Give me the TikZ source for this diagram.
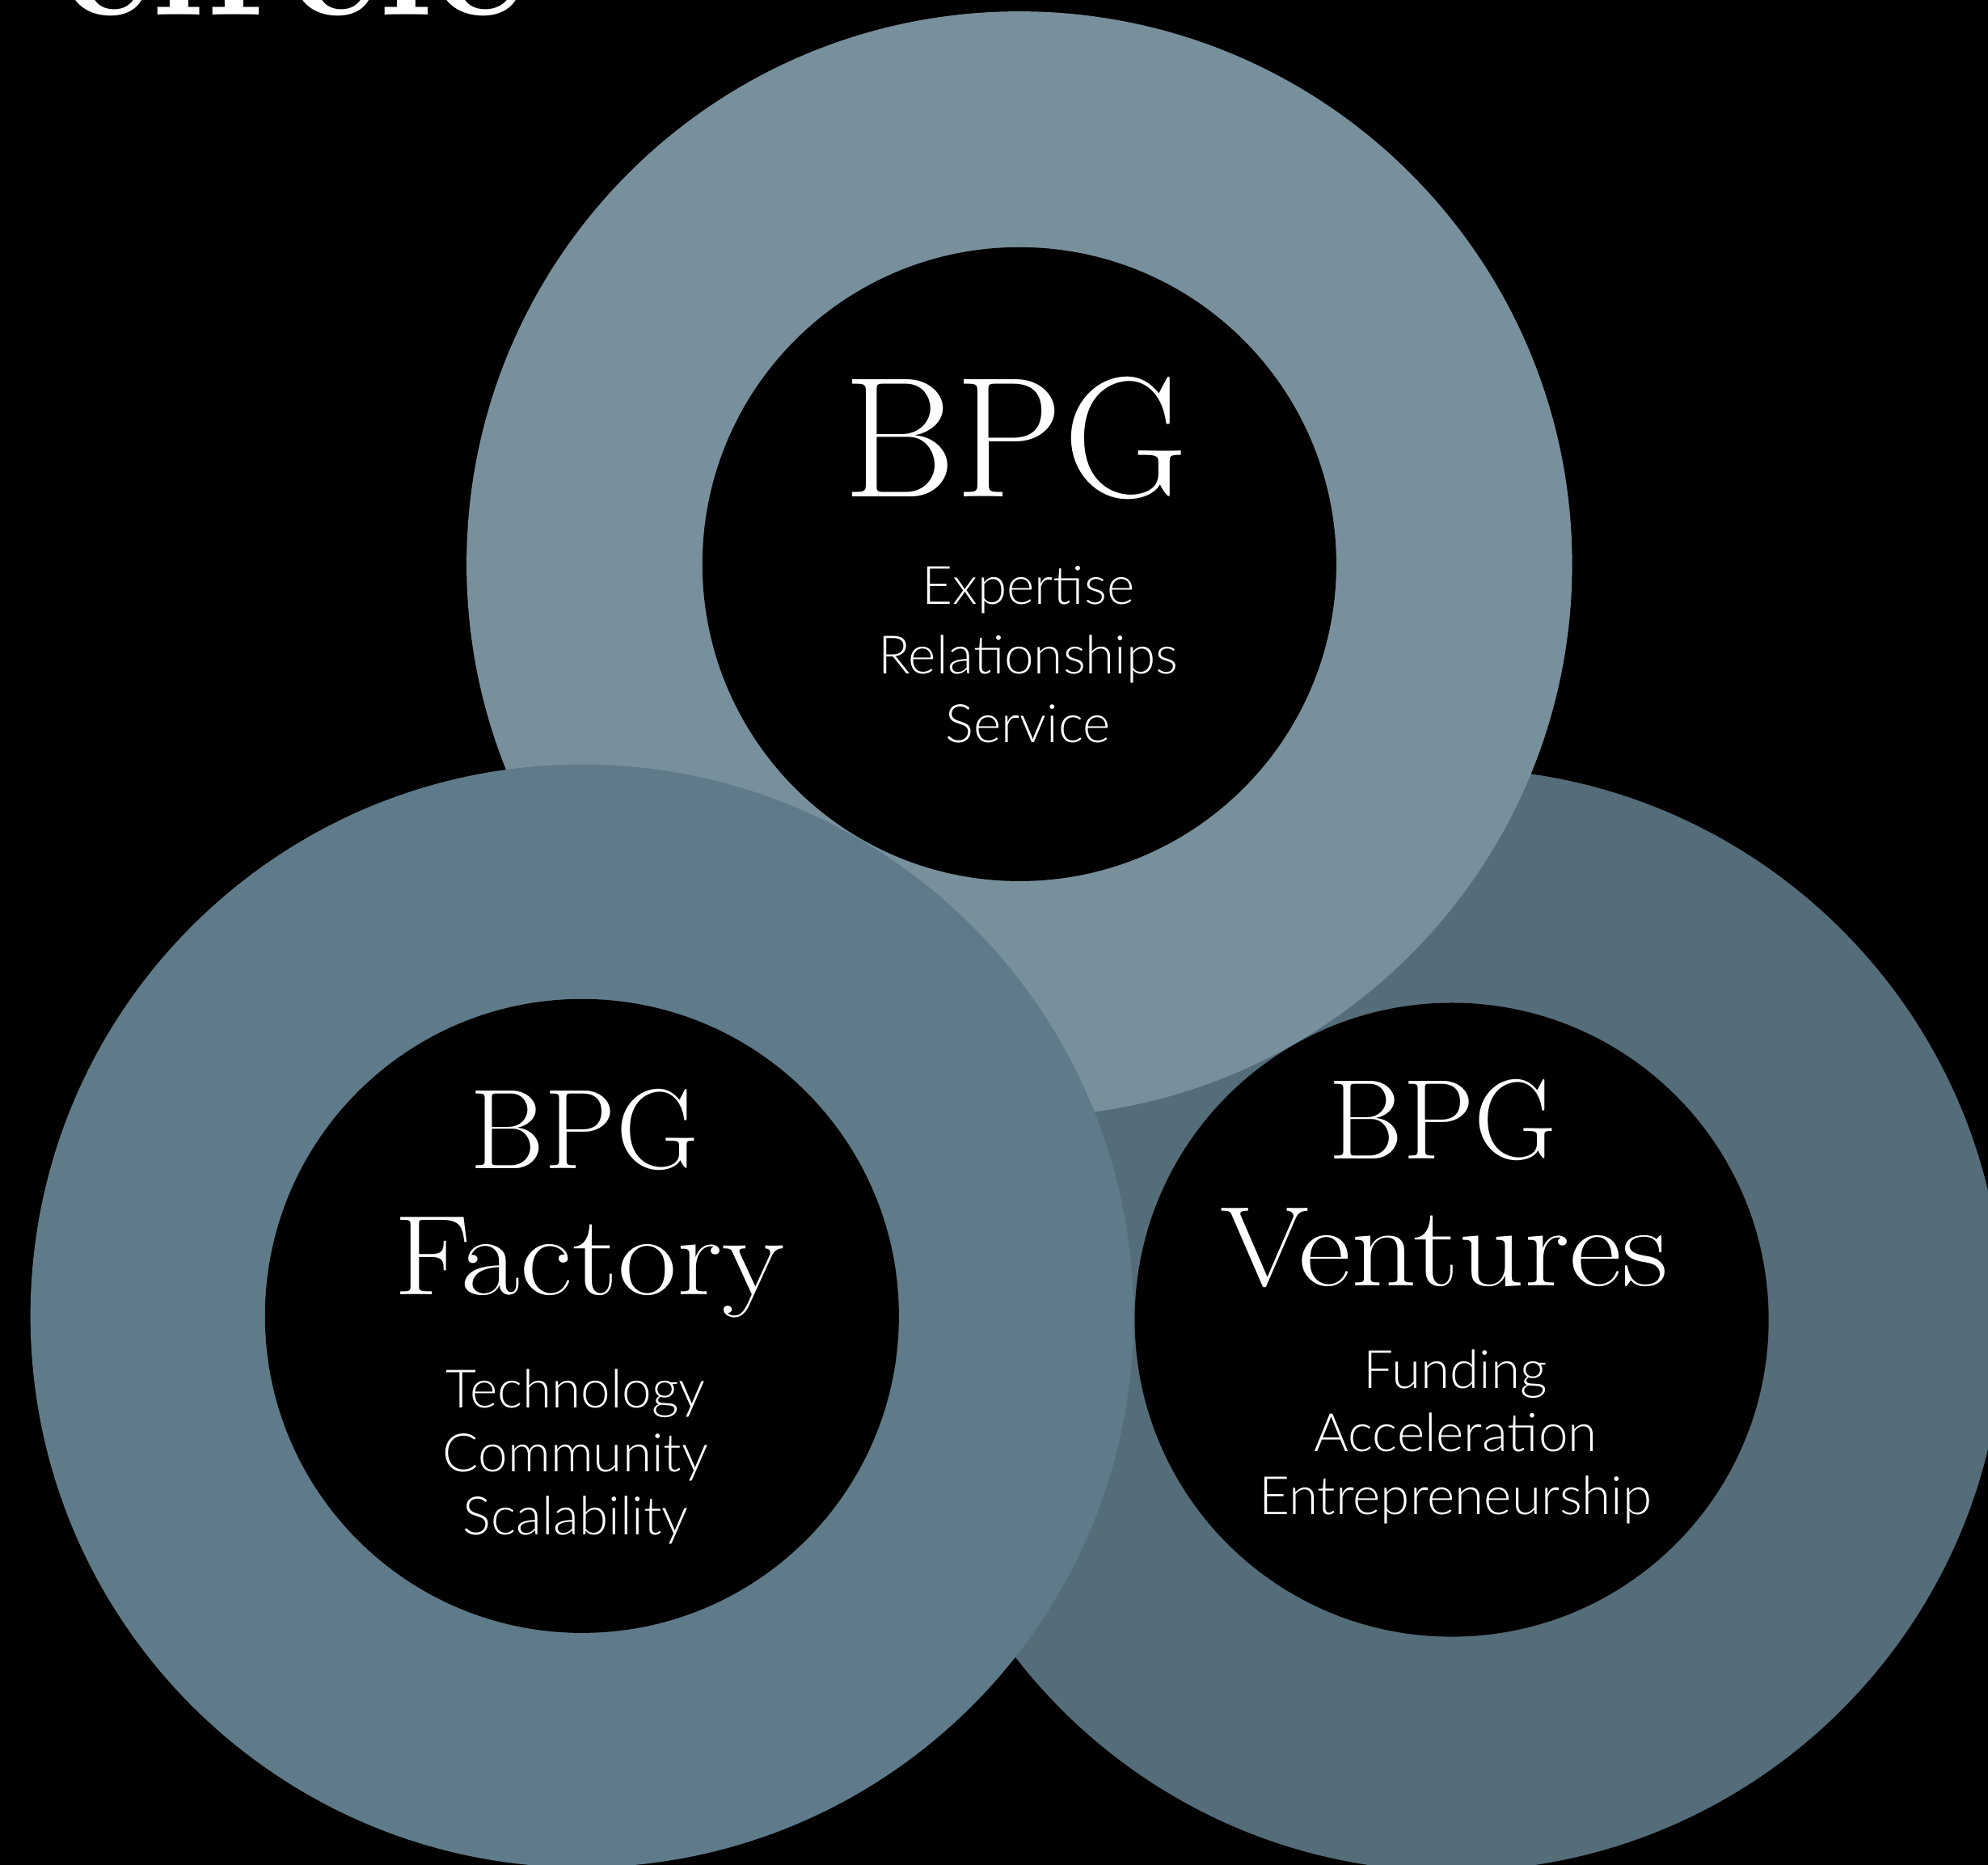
\documentclass[tikz,border=0pt]{standalone}
\usepackage{fontspec}
\newfontfamily\thinfont{Lato Light}
\newfontfamily\widefont{Latin Modern Roman}[FakeStretch=1.13]
\definecolor{ringtop}{HTML}{78909C}
\definecolor{ringleft}{HTML}{5F7B89}
\definecolor{ringright}{HTML}{546D79}

\begin{document}
\begin{tikzpicture}[x=0.1mm, y=-0.1mm,
    every node/.style={text=white, inner sep=0pt, anchor=base},
    titletext/.style={font=\bfseries\fontsize{40}{44}\selectfont},
    bpgbig/.style={font=\fontsize{38.5}{42}\selectfont},
    bpgsmall/.style={font=\fontsize{25.5}{28}\selectfont},
    unitname/.style={font=\widefont\fontsize{25.5}{28}\selectfont},
    keywords/.style={align=center, font=\thinfont\fontsize{11.9}{14.2}\selectfont}]

    % Page
    \fill[black] (0,0) rectangle (1568,1471);
    \useasboundingbox (0,0) rectangle (1568,1471);
    \clip (0,0) rectangle (1568,1471);

    % Ring centres
    \coordinate (T) at (804,445);
    \coordinate (L) at (459,1038);
    \coordinate (R) at (1145,1041);

    % Outer rings
    \fill[ringright] (R) circle[radius=435];
    \fill[ringtop]   (T) circle[radius=436];
    \fill[ringleft]  (L) circle[radius=435];

    % Inner disks
    \fill[black] (T) circle[radius=250];
    \fill[black] (L) circle[radius=250];
    \fill[black] (R) circle[radius=250];

    % Heading, cut by the page edge
    \node (heading) at (231,12) [titletext] {circle};

    % Top: BPG (keyword blocks sit on their last baseline)
    \node (T0) at (801,392) [bpgbig] {BPG};
    \node (T1) at (811,586) [keywords, font=\thinfont\fontsize{11.9}{15.6}\selectfont]
        {Expertise\\Relationships\\Service};

    % Left: BPG Factory
    \node (L0) at (461,922)  [bpgsmall] {BPG};
    \node (L1) at (465,1021.5) [unitname] {Factory};
    \node (L2) at (454,1210.5) [keywords] {Technology\\Community\\Scalability};

    % Right: BPG Ventures
    \node (R0) at (1138,914)  [bpgsmall] {BPG};
    \node (R1) at (1139,1014) [unitname] {Ventures};
    \node (R2) at (1148,1194.7) [keywords] {Funding\\Acceleration\\Entrepreneurship};

\end{tikzpicture}
\end{document}
